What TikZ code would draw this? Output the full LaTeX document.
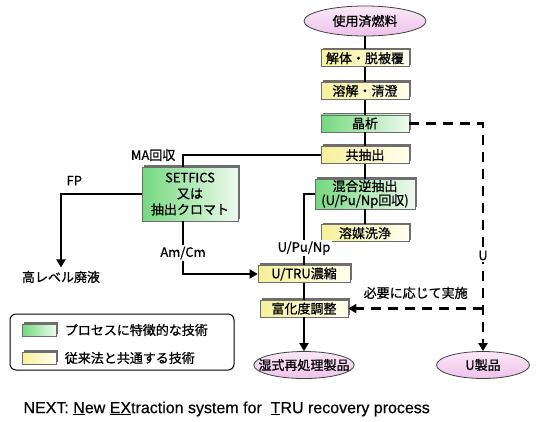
\documentclass[tikz,border=0pt]{standalone}
\usepackage{fontspec}
\setmainfont{Noto Sans CJK JP}[FakeBold=0.8]
\newfontfamily\latinfont{Liberation Sans}[FakeBold=0.4]
\usepackage{tikz}
\usetikzlibrary{positioning, arrows.meta, shapes.geometric, shadows, calc}

\begin{document}
\begin{tikzpicture}[
    x=1pt, y=-1pt,
    >={Triangle[length=8pt, width=9pt]},
    font=\fontsize{13pt}{14pt}\selectfont,
    proc/.style={rectangle, draw=shadegray, line width=0.6pt,
        minimum width=88pt, minimum height=17pt, inner sep=1pt,
        general shadow={shadow xshift=2.2pt, shadow yshift=2.2pt, fill=shadegray}},
    common/.style={proc, left color=yboxl, right color=yboxr},
    special/.style={proc, left color=gboxl, right color=gboxr},
    product/.style={ellipse, draw=black!75, line width=0.8pt,
        top color=ellt, bottom color=ellb, inner xsep=-10pt, inner ysep=0pt},
    flow/.style={line width=2.6pt},
    dashflow/.style={line width=2.8pt, dash pattern=on 10pt off 7pt},
    tag/.style={fill=white, inner sep=1.5pt},
]

% ── Colors ──
\definecolor{shadegray}{HTML}{6E6E6E}
\definecolor{yboxl}{HTML}{F6F09A}
\definecolor{yboxr}{HTML}{FFFFEE}
\definecolor{gboxl}{HTML}{74D87F}
\definecolor{gboxr}{HTML}{EEFAEE}
\definecolor{ellt}{HTML}{FBE8F8}
\definecolor{ellb}{HTML}{EEC2EA}

\useasboundingbox (0,0) rectangle (538,421);

% ══════════════════════════════════════════════
% Main column: spent fuel -> solvent wash
% ══════════════════════════════════════════════
\node[product, minimum width=122pt, minimum height=30pt] (fuel) at (365,21) {使用済燃料};
\node[common, below=13pt of fuel] (dis) {解体・脱被覆};
\node[common, below=15pt of dis] (sol) {溶解・清澄};
\node[special, below=15pt of sol] (cry) {晶析};
\node[common, below=14pt of cry] (co) {共抽出};
\node[special, minimum width=100pt, minimum height=30pt, align=center,
    below=15pt of co] (mix) {混合逆抽出\\(U/Pu/Np回収)};
\node[common, below=15pt of mix] (wash) {溶媒洗浄};

% ══════════════════════════════════════════════
% MA recovery branch
% ══════════════════════════════════════════════
\node[special, minimum width=96pt, minimum height=54pt, align=center,
    font=\fontsize{13pt}{16pt}\selectfont] (setf) at (190,194) {SETFICS\\又は\\抽出クロマト};
\node (hlw) at (61,277) {高レベル廃液};

% ══════════════════════════════════════════════
% Lower column: concentration -> products
% ══════════════════════════════════════════════
\node[common, minimum width=92pt] (conc) at (304,274) {U/TRU濃縮};
\node[common, below=17pt of conc] (adj) {富化度調整};
\node[product, minimum width=95pt, minimum height=27pt] (wet) at (304,365) {湿式再処理製品};
\node[product, minimum width=93pt, minimum height=27pt] (uprod) at (483,365) {U製品};

% ══════════════════════════════════════════════
% Flow lines
% ══════════════════════════════════════════════
\draw[flow] (fuel) -- (dis) -- (sol) -- (cry) -- (co) -- (mix) -- (wash);
\draw[flow] (co.west) -| ([xshift=-7pt]setf.north)
    node[pos=0.5, left=3pt] {MA回収};
\draw[flow, ->] (setf.west) -| (hlw.north)
    node[pos=0.5, anchor=south west, xshift=1pt, yshift=4pt] {FP};
\draw[flow, ->] ([xshift=-7pt]setf.south) |- (conc.west)
    node[pos=0.3, tag] {Am/Cm};
\draw[flow] (mix.west) -| (conc.north)
    node[pos=0.88, tag] {U/Pu/Np};
\draw[flow] (conc) -- (adj);
\draw[flow, ->] (adj) -- (wet);

% U product (dashed)
\draw[dashflow, ->] (cry.east) -| (uprod.north)
    node[pos=0.79, tag] {U};
\draw[dashflow, ->] (adj.east -| uprod.north) -- (adj.east)
    node[midway, above=5pt] {必要に応じて実施};

% ══════════════════════════════════════════════
% Legend
% ══════════════════════════════════════════════
\node[rectangle, rounded corners=6pt, draw=black, line width=1pt,
    minimum width=224pt, minimum height=56pt] (legend) at (122,342) {};
\node[special, minimum width=34pt, minimum height=12pt] (keyg) at (39,330) {};
\node[common, minimum width=34pt, minimum height=12pt] (keyy) at (39,358) {};
\node[right=5pt of keyg] (keygtext) {プロセスに特徴的な技術};
\node[right=5pt of keyy] (keyytext) {従来法と共通する技術};

% Caption
\node[font=\latinfont\fontsize{16pt}{18pt}\selectfont, anchor=west] (next) at (20,409)
    {NEXT: \underline{N}ew \underline{EX}traction system for\ \ \underline{T}RU recovery process};

\end{tikzpicture}
\end{document}
